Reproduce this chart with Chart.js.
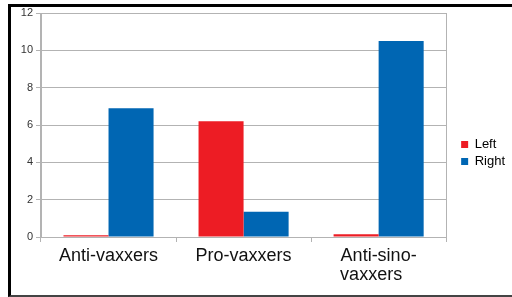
<!DOCTYPE html>
<html>
<head>
<meta charset="utf-8">
<script src="https://cdn.jsdelivr.net/npm/chart.js@4/dist/chart.umd.min.js"></script>
<style>
  body { margin: 0; background: #fff; }
  #wrap { position: relative; width: 512px; height: 297px; overflow: hidden; }
  #frame {
    position: absolute; left: 8px; top: 4px; width: 520px; height: 288px;
    border-top: 3px solid #000; border-left: 3px solid #000; border-bottom: 2px solid #444;
  }
  #chart { position: absolute; left: 0; top: 0; }
</style>
</head>
<body>
<div id="wrap">
  <div id="frame"></div>
  <canvas id="chart" width="512" height="297"></canvas>
</div>
<script>
// ---------- Data ----------

const categories = ["Anti-vaxxers", "Pro-vaxxers", ["Anti-sino-", "vaxxers   "]];
const leftValues = [0.1, 6.2, 0.15];
const rightValues = [6.9, 1.35, 10.5];
const yTicks = [0, 2, 4, 6, 8, 10, 12];

const gridGray = "#b3b3b3";
const font = "'Liberation Sans', Arial, sans-serif";

// ---------- Chart ----------

new Chart(document.getElementById("chart"), {
    type: "bar",
    data: {
        labels: categories,
        datasets: [
            { label: "Left", data: leftValues, backgroundColor: "#ed1c24", borderWidth: 0 },
            { label: "Right", data: rightValues, backgroundColor: "#0066b3", borderWidth: 0 }
        ]
    },
    options: {
        responsive: false,
        animation: false,
        categoryPercentage: 0.667,
        barPercentage: 1.0,
        layout: { padding: { left: 0, top: 13, right: -3, bottom: 4 } },
        plugins: {
            tooltip: { enabled: false },
            legend: {
                position: "right",
                labels: {
                    boxWidth: 7,
                    boxHeight: 7,
                    padding: 4,
                    color: "#000",
                    font: { family: font, size: 13 }
                }
            }
        },
        scales: {
            x: {
                grid: {
                    offset: true,
                    color: ctx => (ctx.index === 1 || ctx.index === 2) ? "transparent" : gridGray,
                    tickColor: gridGray,
                    tickLength: 5
                },
                border: { color: gridGray },
                ticks: {
                    color: "#111",
                    padding: 4,
                    maxRotation: 0,
                    font: { family: font, size: 18, lineHeight: 1.06 }
                },
                afterFit: s => { s.height = 56; }
            },
            y: {
                min: 0,
                max: 12,
                afterBuildTicks: s => { s.ticks = yTicks.map(v => ({ value: v })); },
                grid: { color: gridGray, tickLength: 5 },
                border: { color: gridGray },
                ticks: {
                    color: "#333",
                    padding: 3,
                    font: { family: font, size: 11 }
                },
                afterFit: s => { s.width = 41; }
            },
            gap: {
                type: "linear",
                position: "right",
                grid: { display: false },
                border: { display: false },
                ticks: { display: false },
                afterFit: s => { s.width = 11; }
            }
        }
    }
});
</script>
</body>
</html>
